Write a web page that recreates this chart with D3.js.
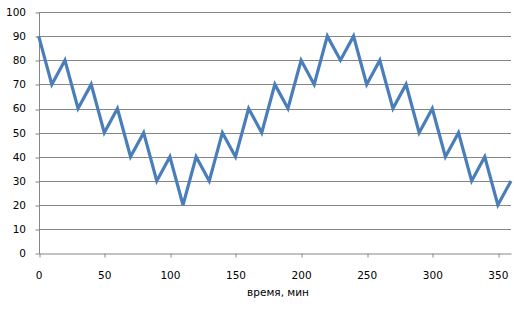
<!DOCTYPE html>
<html><head><meta charset="utf-8">
<script src="https://cdn.jsdelivr.net/npm/d3@7"></script>
<style>
html,body{margin:0;padding:0;background:#fff;}
svg text{font-family:"DejaVu Sans",sans-serif;font-size:10.5px;fill:#000;}
</style></head>
<body>
<svg id="c" width="514" height="310"></svg>
<script>
const times = [0,10,20,30,40,50,60,70,80,90,100,110,120,130,140,150,160,170,180,190,200,210,220,230,240,250,260,270,280,290,300,310,320,330,340,350,360];
const values = [90,70,80,60,70,50,60,40,50,30,40,20,40,30,50,40,60,50,70,60,80,70,90,80,90,70,80,60,70,50,60,40,50,30,40,20,30];
const xTicks = [0,50,100,150,200,250,300,350];
const yTicks = [0,10,20,30,40,50,60,70,80,90,100];
const xTitle = "время, мин";

const svg = d3.select("#c");
const x = d3.scaleLinear().domain([0,360]).range([38.7,511]);
const y = d3.scaleLinear().domain([0,100]).range([253.3,12]);
const grid = "#868686";

// gridlines
svg.append("g").selectAll("line").data(yTicks.filter(d=>d>0)).join("line")
  .attr("x1",x(0)).attr("x2",x(360))
  .attr("y1",d=>Math.round(y(d))+0.5).attr("y2",d=>Math.round(y(d))+0.5)
  .attr("stroke",grid).attr("stroke-width",1);

// y axis
const ya = svg.append("g").attr("transform",`translate(${Math.round(x(0))+0.5},0)`)
  .call(d3.axisLeft(y).tickValues(yTicks).tickSize(4).tickPadding(9.5).tickSizeOuter(0));
ya.selectAll("path,line").attr("stroke",grid);
ya.select(".domain").attr("d",`M0,${y(100)}V${Math.round(y(0))+0.5}`);
ya.selectAll(".tick line").attr("transform",d=>`translate(0,${Math.round(y(d))+0.5-y(d)})`);
ya.selectAll("text").style("font-family","DejaVu Sans").style("font-size","10.5px").attr("fill","#000");

// x axis
const xa = svg.append("g").attr("transform",`translate(0,${Math.round(y(0))+0.5})`)
  .call(d3.axisBottom(x).tickValues(xTicks).tickSize(4).tickPadding(14).tickSizeOuter(0));
xa.selectAll("path,line").attr("stroke",grid);
xa.selectAll(".tick line").attr("transform",d=>`translate(${Math.round(x(d))+0.5-x(d)},0)`);
xa.selectAll("text").style("font-family","DejaVu Sans").style("font-size","10.5px").attr("fill","#000");

// title
svg.append("text").attr("x",278).attr("y",296).attr("text-anchor","middle").text(xTitle);

// line
svg.append("path").datum(times.map((t,i)=>[t,values[i]]))
  .attr("fill","none").attr("stroke","#4a7ebb").attr("stroke-width",3.2)
  .attr("stroke-linejoin","miter").attr("stroke-miterlimit",3)
  .attr("d",d3.line().x(d=>x(d[0])).y(d=>y(d[1])));
</script>
</body></html>
